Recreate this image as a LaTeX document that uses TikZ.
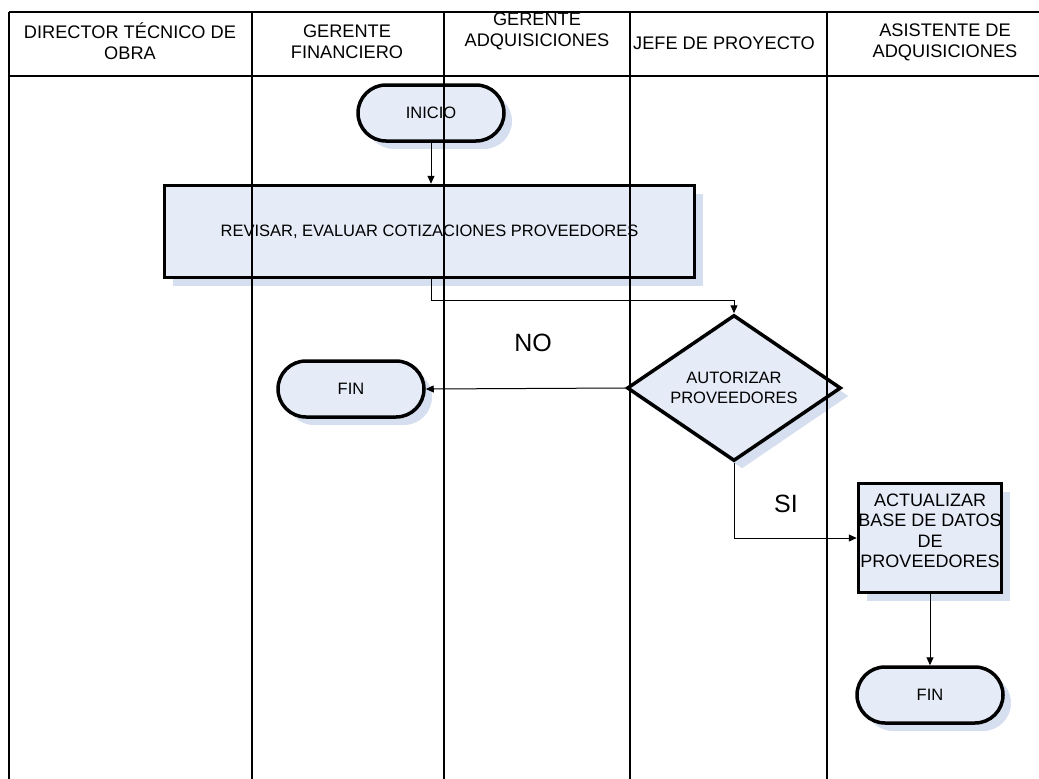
\documentclass[tikz,border=0pt]{standalone}
\usepackage{fontspec}
\setmainfont{Liberation Sans}
\usetikzlibrary{shapes.geometric,arrows.meta,shadows}
\definecolor{boxfill}{RGB}{229,235,247}
\definecolor{shadowfill}{RGB}{214,223,239}

\begin{document}
\begin{tikzpicture}[x=1pt,y=-1pt]
\newcommand{\shapeline}{3.5pt}
\newcommand{\laneline}{1.2pt}
\newcommand{\headfont}{\fontsize{18.2}{21}\selectfont}
\newcommand{\boxfont}{\fontsize{16.5}{20}\selectfont}
\newcommand{\labelfont}{\fontsize{25}{28}\selectfont}
% text lines that may run past the outline without widening it
\newcommand{\flatline}[1]{\makebox[0pt]{#1}}

\tikzset{
  shaded/.style={draw=black, fill=boxfill, line width=\shapeline,
    drop shadow={shadow xshift=8pt, shadow yshift=-8pt, fill=shadowfill, opacity=1}},
  terminal/.style={shaded, rectangle, rounded corners=28pt, minimum width=146pt,
    minimum height=56pt, font=\boxfont},
  process/.style={shaded, rectangle, align=center},
  decision/.style={shaded, diamond, inner sep=0pt, minimum width=214pt,
    minimum height=146pt, align=center, font=\boxfont},
  header/.style={align=center, font=\headfont},
  flow/.style={line width=1pt, -{Triangle[length=8pt,width=7pt]}}
}
\useasboundingbox (0,0) rectangle (1039,779);

    % shapes
    \node[terminal] (inicio) at (431,113) {INICIO};
    \node[process, minimum width=530pt, minimum height=92pt, font=\boxfont] (revisar) at (429.5,231.5)
      {REVISAR, EVALUAR COTIZACIONES PROVEEDORES};
    \node[decision] (autorizar) at (734,388)
      {\flatline{AUTORIZAR}\\\flatline{PROVEEDORES}};
    \node[terminal] (finno) at (351,389) {FIN};
    \node[process, minimum width=143pt, minimum height=109pt,
      font=\fontsize{18}{20.5}\selectfont] (actualizar) at (930,538)
      {\flatline{ACTUALIZAR}\\\flatline{BASE DE DATOS}\\\flatline{DE}\\\flatline{PROVEEDORES}\\[-6pt]};
    \node[terminal] (finsi) at (930,695) {FIN};

    % connectors
    \draw[flow] (inicio.south) -- (inicio.south |- revisar.north);
    \draw[flow] (revisar.south -| inicio) -- ++(0,21) -| (autorizar.north);
    \draw[flow] (autorizar.west) -- (finno.east);
    \draw[flow] (autorizar.south) |- (actualizar.west);
    \draw[flow] (actualizar) -- (finsi);

    \node[font=\labelfont] (no) at (533,343) {NO};
    \node[font=\labelfont] (si) at (786,504) {SI};

    % lanes, drawn over the shapes
    \draw[line width=\laneline] (9,12) -- (1039,12);
    \draw[line width=\laneline] (9,76) -- (1039,76);
    \foreach \x in {9,252,444,630,827}
      \draw[line width=\laneline] (\x,12) -- (\x,779);

    \node[header] (director) at (130,41) {DIRECTOR TÉCNICO DE\\OBRA};
    \node[header] (financiero) at (347,42) {GERENTE\\FINANCIERO};
    \node[header] (adquisiciones) at (537,31) {GERENTE\\ADQUISICIONES};
    \node[header] (jefe) at (724,43) {JEFE DE PROYECTO};
    \node[header] (asistente) at (945,42) {ASISTENTE DE\\ADQUISICIONES};

\end{tikzpicture}
\end{document}
